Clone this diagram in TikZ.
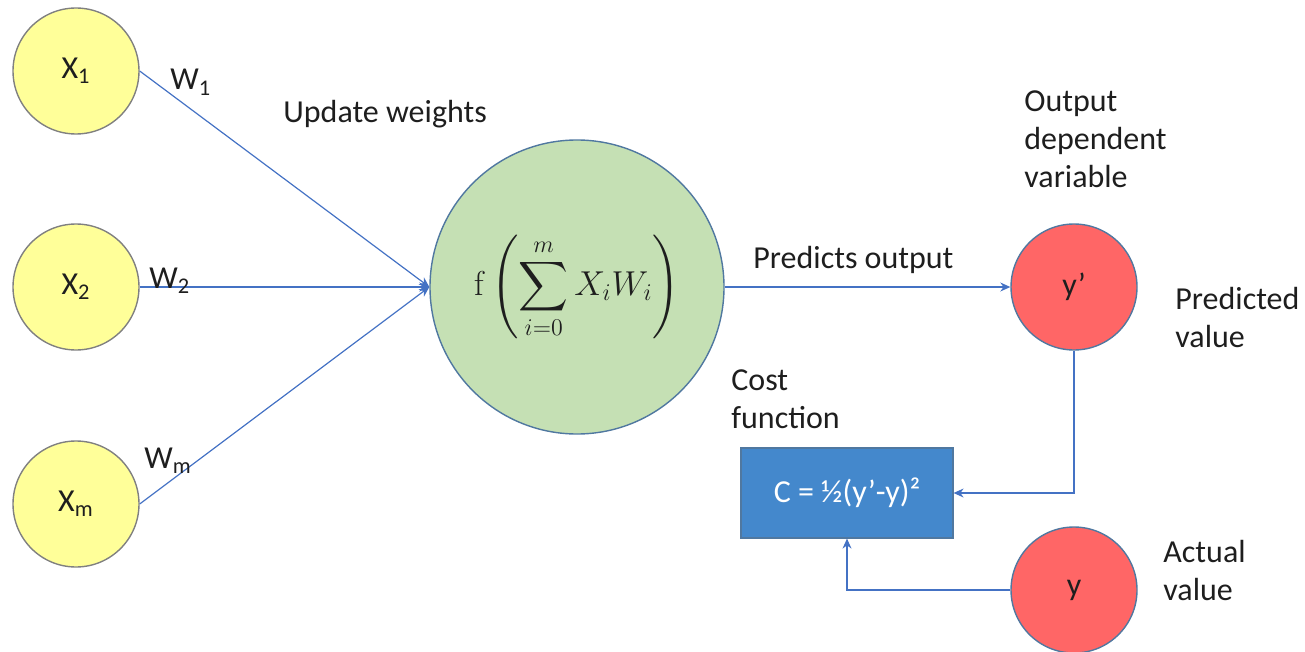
\documentclass[tikz,border=0pt]{standalone}
\usepackage{amsmath}
\usepackage{exscale}
\usepackage[no-math]{fontspec}
\setmainfont{Carlito}
\usepackage{tikz}
\usetikzlibrary{arrows.meta, positioning}
\definecolor{inyellow}{RGB}{255,255,153}
\definecolor{ingray}{RGB}{128,128,128}
\definecolor{sumgreen}{RGB}{197,224,180}
\definecolor{edgeblue}{RGB}{80,120,160}
\definecolor{outred}{RGB}{255,102,102}
\definecolor{costblue}{RGB}{68,136,204}
\definecolor{linkblue}{RGB}{68,114,196}
\definecolor{textdark}{RGB}{30,30,30}
\tikzset{
  neuron/.style={circle, minimum size=63pt, inner sep=0pt, line width=0.7pt,
    font=\fontsize{16}{19}\selectfont, text=textdark},
  inputnode/.style={neuron, fill=inyellow, draw=ingray},
  outnode/.style={neuron, fill=outred, draw=edgeblue},
  sumnode/.style={circle, minimum size=147pt, inner sep=0pt, line width=0.7pt,
    fill=sumgreen, draw=edgeblue, font=\fontsize{18}{22}\selectfont, text=textdark},
  costbox/.style={rectangle, minimum width=106pt, minimum height=45pt,
    fill=costblue, draw=edgeblue, line width=0.6pt, text=white,
    font=\fontsize{16}{19}\selectfont},
  lbl/.style={inner sep=0pt, align=left, text=textdark,
    font=\fontsize{16}{19}\selectfont},
  link/.style={-{Stealth[length=5pt, width=4.5pt]}, line width=0.6pt, color=linkblue},
}

\begin{document}
\begin{tikzpicture}[x=0.5pt, y=-0.5pt]
  \useasboundingbox (0,0) rectangle (1305,652);

  % inputs
  \node[inputnode] (x1) at (76,71)  {X\textsubscript{1}};
  \node[inputnode] (x2) at (76,287) {X\textsubscript{2}};
  \node[inputnode] (xm) at (76,504) {X\textsubscript{m}};

  % neuron
  \node[sumnode] (sum) at (577,287)
    {$\displaystyle \mathrm{f}\left(\sum_{i=0}^{m} X_i W_i\right)$};

  % outputs and cost
  \node[outnode] (yhat) at (1074,287) {y’};
  \node[outnode] (y) at (1074,590) {y};
  \node[costbox] (cost) at (847,493) {C = ½(y’-y)²};

  \draw[link] (x1.east) -- (sum.west);
  \draw[link] (x2) -- (sum.west);
  \draw[link] (xm.east) -- (sum.west);
  \draw[link] (sum) -- (yhat);
  \draw[link] (yhat) |- (cost);
  \draw[link] (y) -| (cost);

  % weights and notes (base = last line)
  \node[lbl, anchor=base west] (w1) at (170,90)  {W\textsubscript{1}};
  \node[lbl, anchor=base west] (w2) at (149,288) {W\textsubscript{2}};
  \node[lbl, anchor=base west] (wm) at (144,468) {W\textsubscript{m}};
  \node[lbl, anchor=base west] (upd) at (283,123) {Update weights};
  \node[lbl, anchor=base west] (pred) at (753,269) {Predicts output};
  \node[lbl, anchor=base west] (outvar) at (1024,188) {Output\\dependent\\variable};
  \node[lbl, anchor=base west] (predval) at (1175,347) {Predicted\\value};
  \node[lbl, anchor=base west] (costfn) at (731,428) {Cost\\function};
  \node[lbl, anchor=base west] (actval) at (1163,600) {Actual\\value};
\end{tikzpicture}
\end{document}
